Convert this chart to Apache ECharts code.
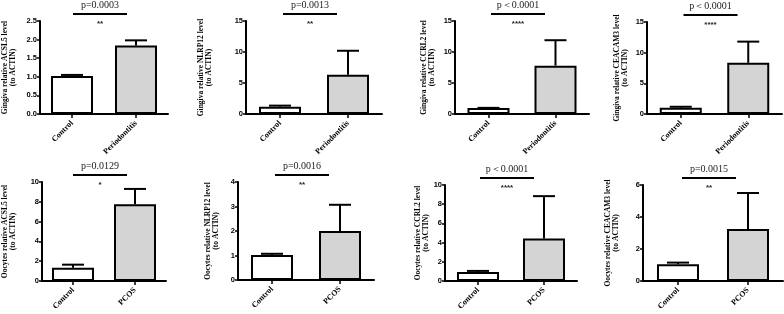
<!DOCTYPE html>
<html>
<head>
<meta charset="utf-8">
<script src="https://cdn.jsdelivr.net/npm/echarts@6/dist/echarts.min.js"></script>
<style>html,body{margin:0;padding:0;background:#fff;}#c{width:784px;height:314px;}</style>
</head>
<body>
<div id="c"></div>
<script>
// ---- data ----
const topCategories = ['Control', 'Periodontitis'];
const bottomCategories = ['Control', 'PCOS'];

const gingivaACSL5Mean = [1.02, 1.84];
const gingivaACSL5Err = [0.03, 0.14];
const gingivaNLRP12Mean = [1.15, 6.35];
const gingivaNLRP12Err = [0.2, 3.85];
const gingivaCCRL2Mean = [0.95, 7.8];
const gingivaCCRL2Err = [0.04, 4.1];
const gingivaCEACAM3Mean = [1.03, 8.35];
const gingivaCEACAM3Err = [0.15, 3.45];

const oocytesACSL5Mean = [1.35, 7.74];
const oocytesACSL5Err = [0.3, 1.56];
const oocytesNLRP12Mean = [1.02, 2.0];
const oocytesNLRP12Err = [0.05, 1.07];
const oocytesCCRL2Mean = [0.95, 4.42];
const oocytesCCRL2Err = [0.1, 4.42];
const oocytesCEACAM3Mean = [1.05, 3.25];
const oocytesCEACAM3Err = [0.1, 2.25];

const yTitles = [
  'Gingiva relative ACSL5 level\n(to ACTIN)',
  'Gingiva relative NLRP12 level\n(to ACTIN)',
  'Gingiva relative CCRL2 level\n(to ACTIN)',
  'Gingiva relative CEACAM3 level\n(to ACTIN)',
  'Oocytes relative ACSL5 level\n(to ACTIN)',
  'Oocytes relative NLRP12 level\n(to ACTIN)',
  'Oocytes relative CCRL2 level\n(to ACTIN)',
  'Oocytes relative CEACAM3 level\n(to ACTIN)'
];
const yMax = [2.5, 15, 15, 15, 10, 4, 10, 6];
const yInterval = [0.5, 5, 5, 5, 2, 1, 2, 2];
const pLabels = ['p=0.0003', 'p=0.0013', 'p\uFF1C0.0001', 'p\uFF1C0.0001', 'p=0.0129', 'p=0.0016', 'p\uFF1C0.0001', 'p=0.0015'];
const starLabels = ['**', '**', '****', '****', '*', '**', '****', '**'];

// ---- layout (pixels) ----
const grids = [
  {left: 40, width: 128, top: 21, height: 93},
  {left: 246, width: 136, top: 21, height: 93},
  {left: 455, width: 134, top: 21, height: 93},
  {left: 647, width: 135, top: 22, height: 92},
  {left: 42, width: 124, top: 182, height: 99},
  {left: 238, width: 136, top: 182, height: 98},
  {left: 445, width: 132, top: 185, height: 96},
  {left: 643, width: 140, top: 185, height: 96}
];
const nameGaps = [23, 33, 19, 18, 25, 18, 14, 23];

const means = [gingivaACSL5Mean, gingivaNLRP12Mean, gingivaCCRL2Mean, gingivaCEACAM3Mean,
               oocytesACSL5Mean, oocytesNLRP12Mean, oocytesCCRL2Mean, oocytesCEACAM3Mean];
const errs = [gingivaACSL5Err, gingivaNLRP12Err, gingivaCCRL2Err, gingivaCEACAM3Err,
              oocytesACSL5Err, oocytesNLRP12Err, oocytesCCRL2Err, oocytesCEACAM3Err];

const barColors = ['#ffffff', '#d4d4d4'];
const serif = 'Liberation Serif';

const option = {
  animation: false,
  backgroundColor: '#fff',
  grid: grids.map(g => Object.assign({containLabel: false}, g)),
  xAxis: grids.map((g, i) => ({
    type: 'category',
    gridIndex: i,
    data: i < 4 ? topCategories : bottomCategories,
    axisLine: {show: true, lineStyle: {color: '#000', width: 2}},
    axisTick: {show: true, alignWithLabel: true, length: 4, lineStyle: {color: '#000', width: 1.5}},
    axisLabel: {rotate: 45, margin: 8, color: '#000', fontFamily: serif, fontWeight: 'bold', fontSize: 8, interval: 0},
    splitLine: {show: false}
  })),
  yAxis: grids.map((g, i) => ({
    type: 'value',
    gridIndex: i,
    min: 0,
    max: yMax[i],
    interval: yInterval[i],
    name: yTitles[i],
    nameLocation: 'middle',
    nameGap: nameGaps[i],
    nameTextStyle: {fontFamily: serif, fontWeight: 'bold', fontSize: 7.5, lineHeight: 8, color: '#000'},
    axisLine: {show: true, lineStyle: {color: '#000', width: 2}},
    axisTick: {show: true, length: 3, lineStyle: {color: '#000', width: 1.5}},
    axisLabel: {
      margin: 3, color: '#000', fontFamily: 'Liberation Sans', fontWeight: 'bold', fontSize: 7.5,
      formatter: v => (yInterval[i] < 1 ? v.toFixed(1) : String(v))
    },
    splitLine: {show: false}
  })),
  series: []
};

grids.forEach((g, i) => {
  option.series.push({
    type: 'bar',
    xAxisIndex: i,
    yAxisIndex: i,
    barWidth: 42,
    data: means[i].map((v, k) => ({value: v, itemStyle: {color: barColors[k]}})),
    itemStyle: {borderColor: '#000', borderWidth: 2}
  });
  option.series.push({
    type: 'custom',
    xAxisIndex: i,
    yAxisIndex: i,
    data: means[i].map((v, k) => [k, v, errs[i][k]]),
    encode: {x: 0, y: 1},
    z: 3,
    renderItem: function (params, api) {
      const base = api.coord([api.value(0), api.value(1)]);
      const top = api.coord([api.value(0), api.value(1) + api.value(2)]);
      const half = 11;
      const st = {stroke: '#000', lineWidth: 2};
      return {
        type: 'group',
        children: [
          {type: 'line', shape: {x1: base[0], y1: base[1], x2: top[0], y2: top[1]}, style: st},
          {type: 'line', shape: {x1: top[0] - half, y1: top[1], x2: top[0] + half, y2: top[1]}, style: st}
        ]
      };
    }
  });
  option.series.push({
    type: 'custom',
    xAxisIndex: i,
    yAxisIndex: i,
    data: [[0, yMax[i]]],
    encode: {x: 0, y: 1},
    clip: false,
    z: 4,
    renderItem: function (params, api) {
      const c0 = api.coord([0, yMax[i]]);
      const c1 = api.coord([1, yMax[i]]);
      const mid = (c0[0] + c1[0]) / 2 - 4;
      const yTop = c0[1];
      return {
        type: 'group',
        children: [
          {type: 'line', shape: {x1: mid - 27, y1: yTop - 7, x2: mid + 27, y2: yTop - 7},
           style: {stroke: '#000', lineWidth: 2}},
          {type: 'text', x: mid, y: yTop - 16,
           style: {text: pLabels[i], fill: '#222', font: '10px "Liberation Serif"', align: 'center', verticalAlign: 'middle'}},
          {type: 'text', x: mid, y: yTop + 3,
           style: {text: starLabels[i], fill: '#222', font: 'bold 8px "Liberation Sans"', align: 'center', verticalAlign: 'middle'}}
        ]
      };
    }
  });
});

const chart = echarts.init(document.getElementById('c'), null, {renderer: 'canvas'});
chart.setOption(option);
</script>
</body>
</html>
